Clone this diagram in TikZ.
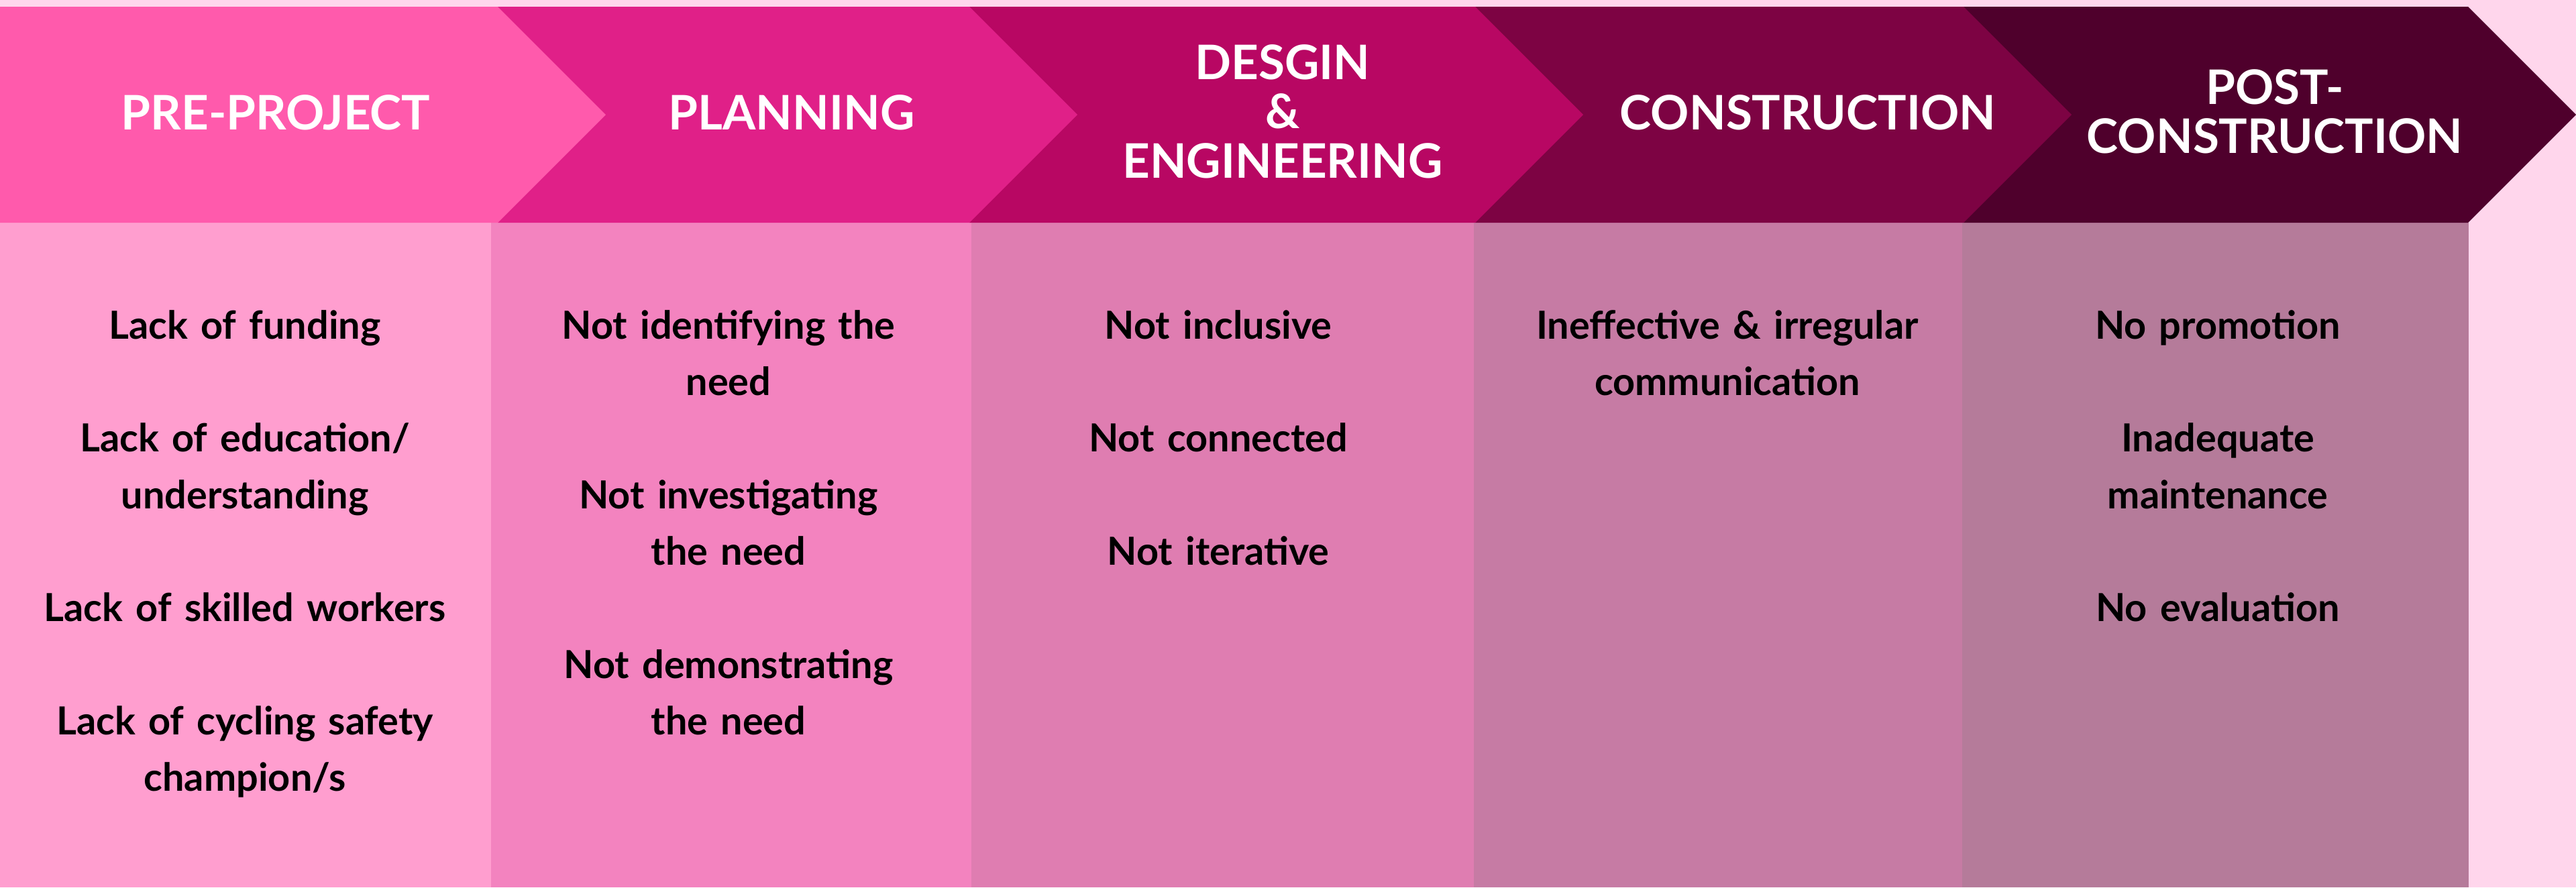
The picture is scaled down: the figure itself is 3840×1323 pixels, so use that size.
\documentclass[tikz,border=0pt]{standalone}
\usepackage{fontspec}
\setmainfont{Lato}
\usepackage{xcolor}
\usepackage{tikz}

\definecolor{bgpink}{HTML}{FFD6EC}
\definecolor{chevA}{HTML}{FF5AAC}
\definecolor{chevB}{HTML}{E02088}
\definecolor{chevC}{HTML}{B80763}
\definecolor{chevD}{HTML}{7D0343}
\definecolor{chevE}{HTML}{4F002C}
\definecolor{colA}{HTML}{FF9ECF}
\definecolor{colB}{HTML}{F383BF}
\definecolor{colC}{HTML}{DF7DB1}
\definecolor{colD}{HTML}{C67BA4}
\definecolor{colE}{HTML}{B57B9A}

\tikzset{
  phase/.style={anchor=base, inner sep=0pt, text width=7cm, align=center, text=white,
    font=\bfseries\fontsize{20.2}{21}\selectfont},
  issue/.style={anchor=base, inner sep=0pt, text width=7cm, align=center, text=black,
    font=\bfseries\fontsize{16.4}{24}\selectfont},
}

\begin{document}
\begin{tikzpicture}[x=0.1mm, y=-0.1mm]
    % background
    \fill[bgpink] (0,0) rectangle (3840,1323);
    % columns
    \fill[colA] (0,332) rectangle (732,1323);
    \fill[colB] (732,332) rectangle (1448,1323);
    \fill[colC] (1448,332) rectangle (2197,1323);
    \fill[colD] (2197,332) rectangle (2925,1323);
    \fill[colE] (2925,332) rectangle (3680,1323);
    % chevrons, last one first
    \fill[chevE] (2927,10) -- (3679,10) -- (3840,171) -- (3679,332) -- (2927,332) -- cycle;
    \fill[chevD] (2199,10) -- (2927,10) -- (3088,171) -- (2927,332) -- (2199,332) -- cycle;
    \fill[chevC] (1445,10) -- (2199,10) -- (2360,171) -- (2199,332) -- (1445,332) -- cycle;
    \fill[chevB] (742,10) -- (1445,10) -- (1606,171) -- (1445,332) -- (742,332) -- cycle;
    \fill[chevA] (0,10) -- (742,10) -- (903,171) -- (742,332) -- (0,332) -- cycle;

    % phase titles
    \node[phase] (prepro) at (411,193) {PRE-PROJECT};
    \node[phase] (plan) at (1180,193) {PLANNING};
    \node[phase] (design) at (1912,118) {DESGIN\\\&\\ENGINEERING};
    \node[phase] (constr) at (2695,193) {CONSTRUCTION};
    \node[phase] (post) at (3391,155) {POST-\\CONSTRUCTION};

    % barriers per phase
    \node[issue] (prepro-list) at (365,505) {Lack of funding\\[24pt]
        Lack of education/\\understanding\\[24pt]
        Lack of skilled workers\\[24pt]
        Lack of cycling safety\\champion/s};
    \node[issue] (plan-list) at (1086,505) {Not identifying the\\need\\[24pt]
        Not investigating\\the need\\[24pt]
        Not demonstrating\\the need};
    \node[issue] (design-list) at (1816,505) {Not inclusive\\[24pt]
        Not connected\\[24pt]
        Not iterative};
    \node[issue] (constr-list) at (2575,505) {Ineffective \& irregular\\communication};
    \node[issue] (post-list) at (3306,505) {No promotion\\[24pt]
        Inadequate\\maintenance\\[24pt]
        No evaluation};
\end{tikzpicture}
\end{document}
